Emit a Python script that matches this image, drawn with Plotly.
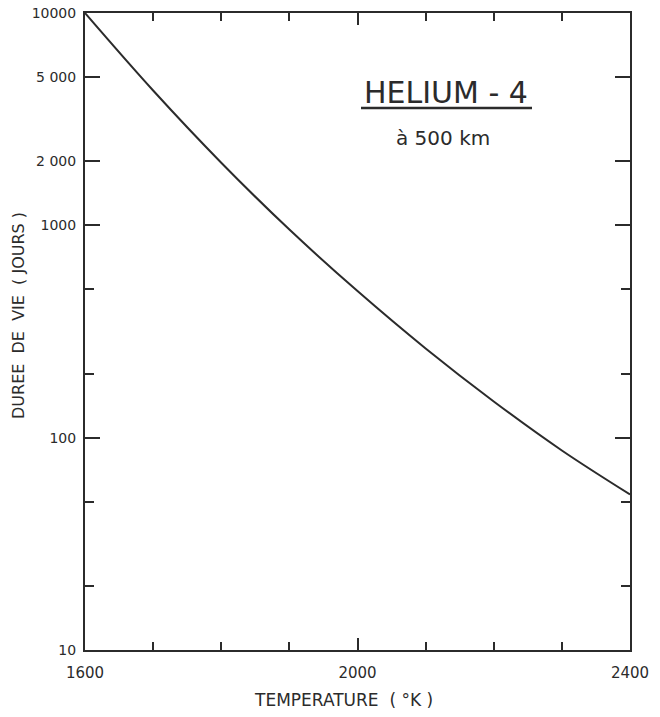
import plotly.graph_objects as go

# Lifetime of helium-4 at 500 km versus exospheric temperature
temperature = [1600, 1700, 1800, 1900, 2000, 2100, 2200, 2300, 2400]
lifetime_days = [10000, 4315, 1972, 955, 490, 263, 148, 87, 54]

x_tick_vals = [1600, 2000, 2400]
x_tick_text = ["1600", "2000", "2400"]
y_tick_vals = [10, 100, 1000, 2000, 5000, 10000]
y_tick_text = ["10", "100", "1000", "2 000", "5 000", "10000"]
y_minor_vals = [20, 50, 200, 500]

ink = "#2b2b2b"
font_family = "DejaVu Sans, Roboto, sans-serif"

# plot area in pixels: left, right, top, bottom
L, R, T, B = 85, 630, 13, 650
W, H = 660, 717


def px(xp):
    return (xp - L) / (R - L)


def py(yp):
    return (B - yp) / (B - T)


fig = go.Figure()
fig.add_trace(go.Scatter(
    x=temperature, y=lifetime_days, mode="lines",
    line=dict(color=ink, width=2, shape="spline", smoothing=1.0),
    showlegend=False, hoverinfo="x+y",
))

fig.update_layout(
    width=W, height=H,
    margin=dict(l=L, r=W - R, t=T, b=H - B),
    paper_bgcolor="white", plot_bgcolor="white",
    font=dict(family=font_family, color=ink, size=14),
    xaxis=dict(
        range=[1600, 2400], showgrid=False, zeroline=False, automargin=False,
        showline=True, linecolor=ink, linewidth=2, mirror="allticks",
        ticks="inside", ticklen=12, tickwidth=1.5, tickcolor=ink,
        tickvals=x_tick_vals, ticktext=x_tick_text,
        tickfont=dict(size=15), ticklabelstandoff=8,
        minor=dict(dtick=100, ticks="inside", ticklen=8, tickwidth=1.5,
                   tickcolor=ink, showgrid=False),
    ),
    yaxis=dict(
        type="log", range=[1, 4], showgrid=False, zeroline=False, automargin=False,
        showline=True, linecolor=ink, linewidth=2, mirror="allticks",
        ticks="inside", ticklen=15, tickwidth=1.5, tickcolor=ink,
        tickvals=y_tick_vals, ticktext=y_tick_text,
        tickfont=dict(size=14), ticklabelstandoff=4,
        minor=dict(tickvals=y_minor_vals, ticks="inside", ticklen=9,
                   tickwidth=1.5, tickcolor=ink, showgrid=False),
    ),
)

# axis titles
fig.add_annotation(
    x=px(343), y=py(700), xref="paper", yref="paper",
    xanchor="center", yanchor="middle",
    text="TEMPERATURE  ( °K )", showarrow=False,
    font=dict(size=17, family=font_family, color=ink),
)
fig.add_annotation(
    x=px(18), y=py(316), xref="paper", yref="paper",
    xanchor="center", yanchor="middle", textangle=-90,
    text="DUREE  DE  VIE  ( JOURS )", showarrow=False,
    font=dict(size=16, family=font_family, color=ink),
)

# chart label
fig.add_annotation(
    x=px(446), y=py(92), xref="paper", yref="paper",
    xanchor="center", yanchor="middle",
    text="HELIUM - 4", showarrow=False,
    font=dict(size=30, family=font_family, color=ink),
)
fig.add_shape(
    type="line", xref="paper", yref="paper",
    x0=px(361), x1=px(532), y0=py(108), y1=py(108),
    line=dict(color=ink, width=2.5),
)
fig.add_annotation(
    x=px(443), y=py(138), xref="paper", yref="paper",
    xanchor="center", yanchor="middle",
    text="à 500 km", showarrow=False,
    font=dict(size=20, family=font_family, color=ink),
)

fig.write_html("out.html")
